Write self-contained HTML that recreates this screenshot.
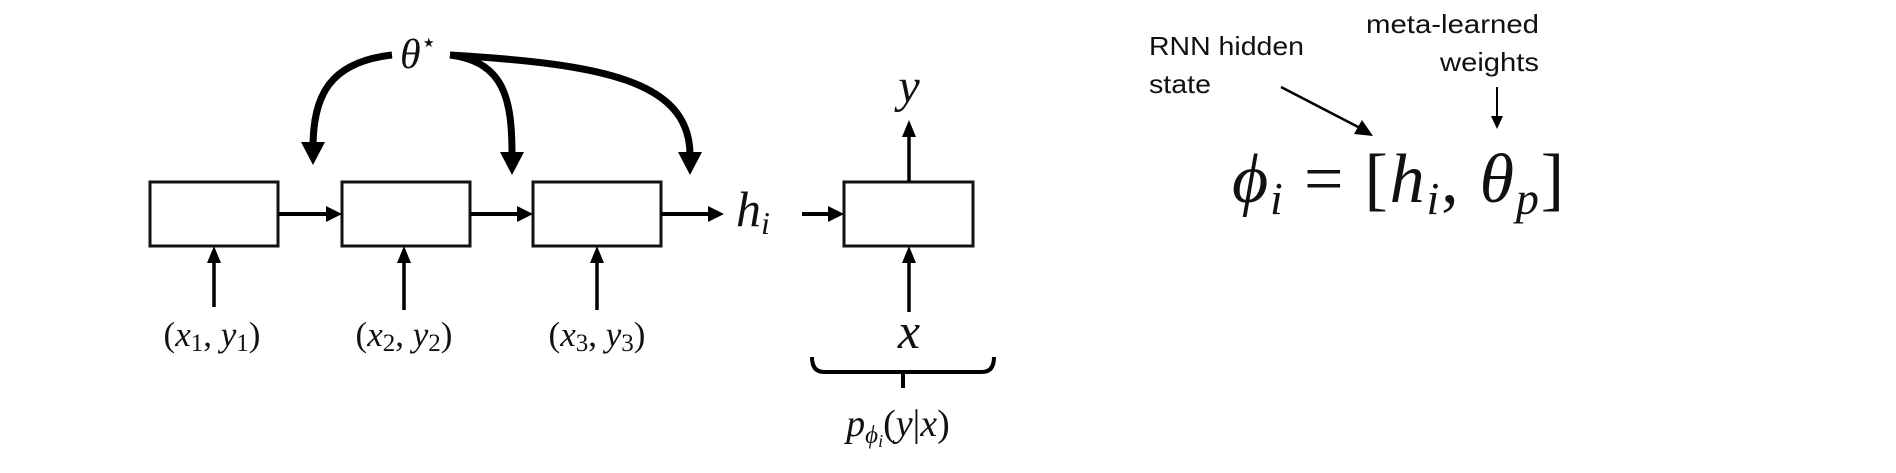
<!DOCTYPE html>
<html><head><meta charset="utf-8"><style>
html,body{margin:0;padding:0;background:#fff;}
svg{display:block;}
.m{font-family:"Liberation Serif",serif;font-style:italic;fill:#111;}
.r{font-family:"Liberation Serif",serif;fill:#111;}
.s{font-family:"Liberation Sans",sans-serif;fill:#111;font-size:26px;}
</style></head><body>
<svg width="1896" height="473" viewBox="0 0 1896 473" xmlns="http://www.w3.org/2000/svg">
<g fill="#fff" stroke="#111" stroke-width="3">
<rect x="150" y="182" width="128" height="64"/>
<rect x="342" y="182" width="128" height="64"/>
<rect x="533" y="182" width="128" height="64"/>
<rect x="844" y="182" width="129" height="64"/>
</g>
<g stroke="#000" stroke-width="4" fill="#000">
<line x1="278" y1="214" x2="330" y2="214"/>
<path d="M342,214 L326,206 L326,222z" stroke="none"/>
<line x1="470" y1="214" x2="521" y2="214"/>
<path d="M533,214 L517,206 L517,222z" stroke="none"/>
<line x1="661" y1="214" x2="712" y2="214"/>
<path d="M724,214 L708,206 L708,222z" stroke="none"/>
<line x1="802" y1="214" x2="832" y2="214"/>
<path d="M844,214 L828,206 L828,222z" stroke="none"/>
</g>
<g stroke="#000" stroke-width="3.5" fill="#000">
<line x1="214" y1="307" x2="214" y2="262"/>
<path d="M214,246 L207,263 L221,263z" stroke="none"/>
<line x1="404" y1="310" x2="404" y2="262"/>
<path d="M404,246 L397,263 L411,263z" stroke="none"/>
<line x1="597" y1="310" x2="597" y2="262"/>
<path d="M597,246 L590,263 L604,263z" stroke="none"/>
<line x1="909" y1="312" x2="909" y2="262"/>
<path d="M909,246 L902,263 L916,263z" stroke="none"/>
<line x1="909" y1="182" x2="909" y2="135"/>
<path d="M909,120 L902,137 L916,137z" stroke="none"/>
</g>
<g stroke="#000" stroke-width="7" fill="none">
<path d="M392,55 C330,62 313,95 313,148"/>
<path d="M450,55 C505,62 512,100 512,155"/>
<path d="M450,55 C600,64 690,80 690,155"/>
</g>
<g fill="#000">
<path d="M313,165 L301,142 L325,142z"/>
<path d="M512,175 L500,152 L524,152z"/>
<path d="M690,175 L678,152 L702,152z"/>
</g>
<text class="m" x="400" y="68" font-size="42">θ<tspan class="r" font-style="normal" font-size="26" dy="-17">⋆</tspan></text>
<text class="m" x="736" y="226" font-size="50">h<tspan font-size="32" dy="8">i</tspan></text>
<text class="m" x="909" y="102" font-size="48" text-anchor="middle">y</text>
<text class="m" x="909" y="348" font-size="50" text-anchor="middle">x</text>
<g class="m" font-size="35">
<text x="212" y="346" text-anchor="middle"><tspan class="r" font-style="normal">(</tspan>x<tspan class="r" font-style="normal" font-size="25" dy="5">1</tspan><tspan dy="-5" class="r" font-style="normal">, </tspan>y<tspan class="r" font-style="normal" font-size="25" dy="5">1</tspan><tspan dy="-5" class="r" font-style="normal">)</tspan></text>
<text x="404" y="346" text-anchor="middle"><tspan class="r" font-style="normal">(</tspan>x<tspan class="r" font-style="normal" font-size="25" dy="5">2</tspan><tspan dy="-5" class="r" font-style="normal">, </tspan>y<tspan class="r" font-style="normal" font-size="25" dy="5">2</tspan><tspan dy="-5" class="r" font-style="normal">)</tspan></text>
<text x="597" y="346" text-anchor="middle"><tspan class="r" font-style="normal">(</tspan>x<tspan class="r" font-style="normal" font-size="25" dy="5">3</tspan><tspan dy="-5" class="r" font-style="normal">, </tspan>y<tspan class="r" font-style="normal" font-size="25" dy="5">3</tspan><tspan dy="-5" class="r" font-style="normal">)</tspan></text>
</g>
<path d="M812,357 Q812,372 824,372 L982,372 Q994,372 994,357 M903,372 L903,388" stroke="#000" stroke-width="4" fill="none"/>
<text class="m" x="898" y="436" font-size="38" text-anchor="middle">p<tspan font-size="25" dy="7">ϕ</tspan><tspan font-size="18" dy="4">i</tspan><tspan dy="-11" class="r" font-style="normal">(</tspan>y<tspan class="r" font-style="normal">|</tspan>x<tspan class="r" font-style="normal">)</tspan></text>
<text class="s" x="1149" y="55" textLength="155" lengthAdjust="spacingAndGlyphs">RNN hidden</text>
<text class="s" x="1149" y="93" textLength="62" lengthAdjust="spacingAndGlyphs">state</text>
<text class="s" x="1366" y="33" textLength="173" lengthAdjust="spacingAndGlyphs">meta-learned</text>
<text class="s" x="1440" y="71" textLength="99" lengthAdjust="spacingAndGlyphs">weights</text>
<line x1="1281" y1="87" x2="1362" y2="129" stroke="#000" stroke-width="2.5"/>
<path d="M1373,136 L1354,134 L1362,120z" fill="#000"/>
<line x1="1497" y1="87" x2="1497" y2="118" stroke="#000" stroke-width="2"/>
<path d="M1497,129 L1491,116 L1503,116z" fill="#000"/>
<text class="m" x="1232" y="202" font-size="70" textLength="332" lengthAdjust="spacing">ϕ<tspan font-size="46" dy="12">i</tspan><tspan dy="-12" class="r" font-style="normal"> = [</tspan>h<tspan font-size="46" dy="12">i</tspan><tspan dy="-12" class="r" font-style="normal">, </tspan>θ<tspan font-size="46" dy="12">p</tspan><tspan dy="-12" class="r" font-style="normal">]</tspan></text>
</svg>
</body></html>
